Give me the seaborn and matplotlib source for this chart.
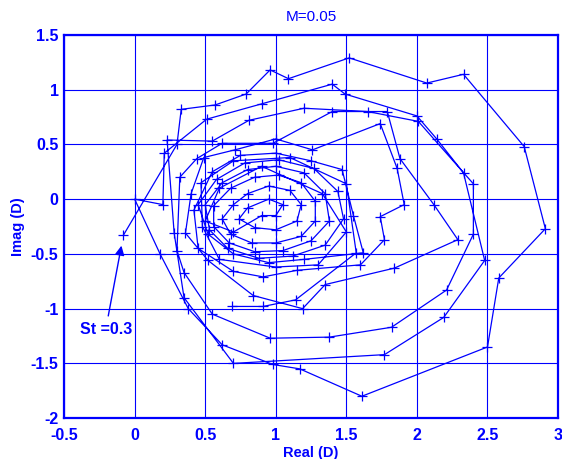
import matplotlib
matplotlib.use("Agg")
import matplotlib.pyplot as plt
import seaborn as sns
import pandas as pd

# Trajectory points (Real, Imag), in drawing order
real_d = [-0.08, 0.30, 0.33, 0.57, 0.79, 0.96, 1.09, 1.52, 2.07, 2.33, 2.76, 2.91, 2.58, 2.50, 1.61,
          1.17, 0.98, 0.62, 0.38, 0.18, 0.00, 0.20, 0.21, 0.51, 0.90, 1.40, 1.49, 2.00, 2.14, 2.33,
          2.48, 2.19, 1.77, 0.70, 0.35, 0.28, 0.23, 0.55, 0.81, 1.20, 1.65, 2.01, 2.40, 2.40, 2.21,
          1.82, 1.38, 0.96, 0.55, 0.35, 0.30, 0.32, 0.44, 0.62, 0.98, 1.40, 1.79, 1.88, 2.12, 2.29,
          1.84, 1.35, 1.19, 0.84, 0.52, 0.36, 0.40, 0.49, 0.71, 1.00, 1.26, 1.74, 1.86, 1.91, 1.74,
          1.77, 1.60, 1.15, 0.91, 0.70, 0.45, 0.42,
          0.55, 0.75, 1.00, 1.25, 1.47, 1.55, 1.62, 1.20, 0.95, 0.70, 0.52, 0.45,
          0.58, 0.78, 1.02, 1.27, 1.44, 1.48, 1.35, 1.12, 0.88, 0.66, 0.53, 0.50,
          0.62, 0.80, 1.00, 1.20, 1.35, 1.38, 1.25, 1.05, 0.85, 0.67, 0.56, 0.56,
          0.68, 0.85, 1.02, 1.18, 1.28, 1.28, 1.18, 1.00, 0.83, 0.68, 0.62,
          0.70, 0.80, 0.95, 1.10, 1.18, 1.15, 1.00, 0.85, 0.74, 0.80, 0.95, 1.05, 1.00, 0.90,
          0.70, 0.50, 0.60, 0.90, 1.33, 1.50, 1.30, 1.00, 0.60, 0.48, 0.47, 0.70, 1.10, 1.50,
          1.57, 1.14, 0.91, 0.69]
imag_d = [-0.33, 0.50, 0.82, 0.86, 0.96, 1.18, 1.10, 1.29, 1.06, 1.14, 0.48, -0.27, -0.72, -1.35, -1.80,
          -1.55, -1.51, -1.33, -1.00, -0.50, 0.00, -0.05, 0.42, 0.73, 0.87, 1.05, 0.96, 0.76, 0.55, 0.24,
          -0.56, -1.08, -1.42, -1.50, -0.90, -0.31, 0.54, 0.53, 0.72, 0.83, 0.80, 0.71, 0.14, -0.32, -0.83,
          -1.17, -1.26, -1.27, -1.05, -0.67, -0.47, 0.20, 0.37, 0.51, 0.51, 0.80, 0.80, 0.37, -0.05, -0.37,
          -0.63, -0.78, -1.00, -0.88, -0.56, -0.31, 0.05, 0.38, 0.45, 0.55, 0.45, 0.69, 0.28, -0.05, -0.16,
          -0.37, -0.60, -0.65, -0.71, -0.66, -0.45, -0.10,
          0.25, 0.40, 0.42, 0.35, 0.27, -0.15, -0.49, -0.55, -0.58, -0.50, -0.32, -0.05,
          0.18, 0.33, 0.36, 0.28, 0.07, -0.18, -0.42, -0.52, -0.54, -0.45, -0.28, -0.05,
          0.15, 0.27, 0.30, 0.24, 0.05, -0.20, -0.38, -0.47, -0.48, -0.40, -0.25, -0.06,
          0.10, 0.20, 0.22, 0.15, -0.02, -0.20, -0.34, -0.40, -0.40, -0.32, -0.18,
          -0.05, 0.05, 0.12, 0.08, -0.05, -0.20, -0.28, -0.26, -0.18, -0.08, 0.00, -0.05, -0.15, -0.15,
          -0.30, -0.20, 0.10, 0.30, 0.05, -0.30, -0.60, -0.62, -0.55, -0.25, 0.15, 0.35, 0.38, 0.14,
          -0.49, -0.92, -0.98, -0.98]

x_ticks = [-0.5, 0, 0.5, 1, 1.5, 2, 2.5, 3]
y_ticks = [-2, -1.5, -1, -0.5, 0, 0.5, 1, 1.5]
x_tick_labels = ["-0.5", "0", "0.5", "1", "1.5", "2", "2.5", "3"]
y_tick_labels = ["-2", "-1.5", "-1", "-0.5", "0", "0.5", "1", "1.5"]
title_text = "M=0.05"
start_label = "St =0.3"

BLUE = "#0000FF"
sns.set_style("white")
plt.rcParams["font.family"] = ["Liberation Sans", "DejaVu Sans"]

df = pd.DataFrame({"order": range(len(real_d)), "Real": real_d, "Imag": imag_d})

fig = plt.figure(figsize=(5.62, 4.59), dpi=100)
ax = fig.add_axes([0.114, 0.089, 0.879, 0.835])

sns.lineplot(data=df, x="Real", y="Imag", sort=False, estimator=None, ax=ax,
             color=BLUE, lw=0.9, marker="+", markersize=7, markeredgewidth=0.9,
             markeredgecolor=BLUE)

ax.set_xlim(-0.5, 3)
ax.set_ylim(-2, 1.5)
ax.set_xticks(x_ticks)
ax.set_xticklabels(x_tick_labels)
ax.set_yticks(y_ticks)
ax.set_yticklabels(y_tick_labels)
ax.grid(True, color=BLUE, lw=0.8)
ax.set_axisbelow(True)
for s in ax.spines.values():
    s.set_color(BLUE)
    s.set_linewidth(1.6)
ax.tick_params(direction="in", colors=BLUE, length=3, labelsize=11.5)
ax.tick_params(axis="x", pad=7)
ax.tick_params(axis="y", pad=4)
for lab in ax.get_xticklabels() + ax.get_yticklabels():
    lab.set_fontweight("bold")
    lab.set_color(BLUE)

ax.set_xlabel("Real (D)", color=BLUE, fontweight="bold", fontsize=10.5, labelpad=2)
ax.set_ylabel("Imag (D)", color=BLUE, fontweight="bold", fontsize=10.5, labelpad=4)
ax.set_title(title_text, color=BLUE, fontsize=11, pad=10)

ax.annotate(start_label, xy=(real_d[0] - 0.01, imag_d[0] - 0.07), xytext=(-0.39, -1.19),
            color=BLUE, fontweight="bold", fontsize=11.5, ha="left", va="center",
            arrowprops=dict(arrowstyle="-|>", color=BLUE, lw=1, mutation_scale=14))

fig.savefig("out.png", dpi=100)
